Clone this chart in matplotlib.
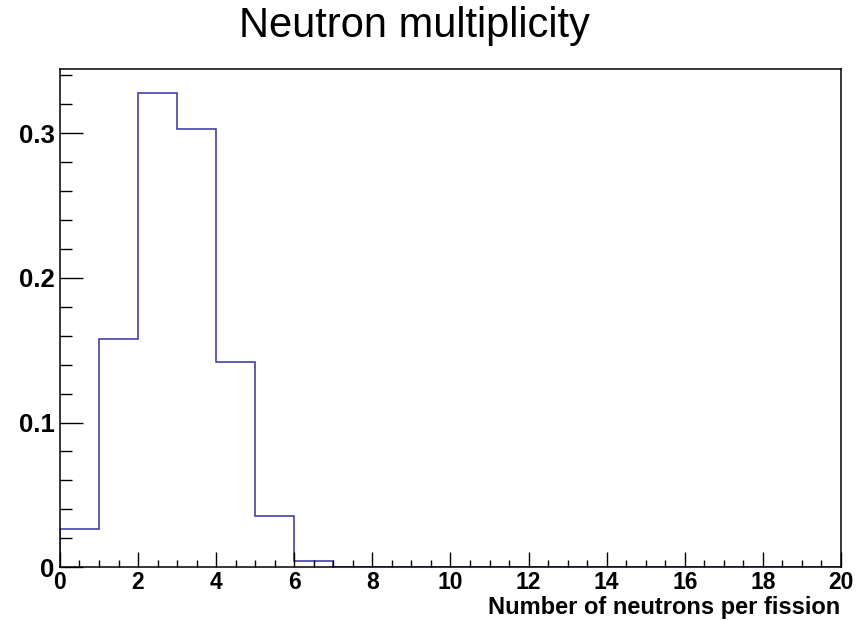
"""
Neutron multiplicity histogram, ROOT style, redone in matplotlib
"""
import matplotlib
matplotlib.use('Agg')
import matplotlib.pyplot as plt
from matplotlib.ticker import MultipleLocator

# Histogram data: fraction of fissions per neutron count (bins 0..20)
edges = list(range(0, 21))
fractions = [0.0263, 0.158, 0.3278, 0.3027, 0.1417, 0.0355, 0.0044,
             0, 0, 0, 0, 0, 0, 0, 0, 0, 0, 0, 0, 0]

plt.rcParams['font.family'] = ['Liberation Sans', 'DejaVu Sans']

fig = plt.figure(figsize=(8.59, 6.23), dpi=100)
ax = fig.add_axes([0.0698, 0.0894, 0.9092, 0.7998])

ax.stairs(fractions, edges, color='#3232a8', linewidth=1.1, baseline=0)

ax.set_xlim(0, 20)
ax.set_ylim(0, 1.05 * max(fractions))

# ticks like ROOT: inward, only on left and bottom
ax.xaxis.set_major_locator(MultipleLocator(2))
ax.xaxis.set_minor_locator(MultipleLocator(0.5))
ax.yaxis.set_major_locator(MultipleLocator(0.1))
ax.yaxis.set_minor_locator(MultipleLocator(0.02))
ax.tick_params(axis='x', which='major', direction='in', length=10.8, width=1.0, pad=3)
ax.tick_params(axis='x', which='minor', direction='in', length=5.0, width=1.0)
ax.tick_params(axis='y', which='major', direction='in', length=16.6, width=1.0, pad=4)
ax.tick_params(axis='y', which='minor', direction='in', length=8.6, width=1.0)
ax.xaxis.set_major_formatter(plt.FuncFormatter(lambda v, p: '%g' % v))
ax.yaxis.set_major_formatter(plt.FuncFormatter(lambda v, p: '%g' % round(v, 2)))
for lab in ax.get_xticklabels():
    lab.set_fontsize(16.5)
    lab.set_fontweight('bold')
for lab in ax.get_yticklabels():
    lab.set_fontsize(18.5)
    lab.set_fontweight('bold')
for s in ax.spines.values():
    s.set_linewidth(1.1)

fig.text(0.482, 0.9406, 'Neutron multiplicity', fontsize=30, ha='center', va='baseline')
fig.text(0.978, 0.0145, 'Number of neutrons per fission', fontsize=17,
         fontweight='bold', ha='right', va='baseline')

fig.savefig('out.png', dpi=100)
